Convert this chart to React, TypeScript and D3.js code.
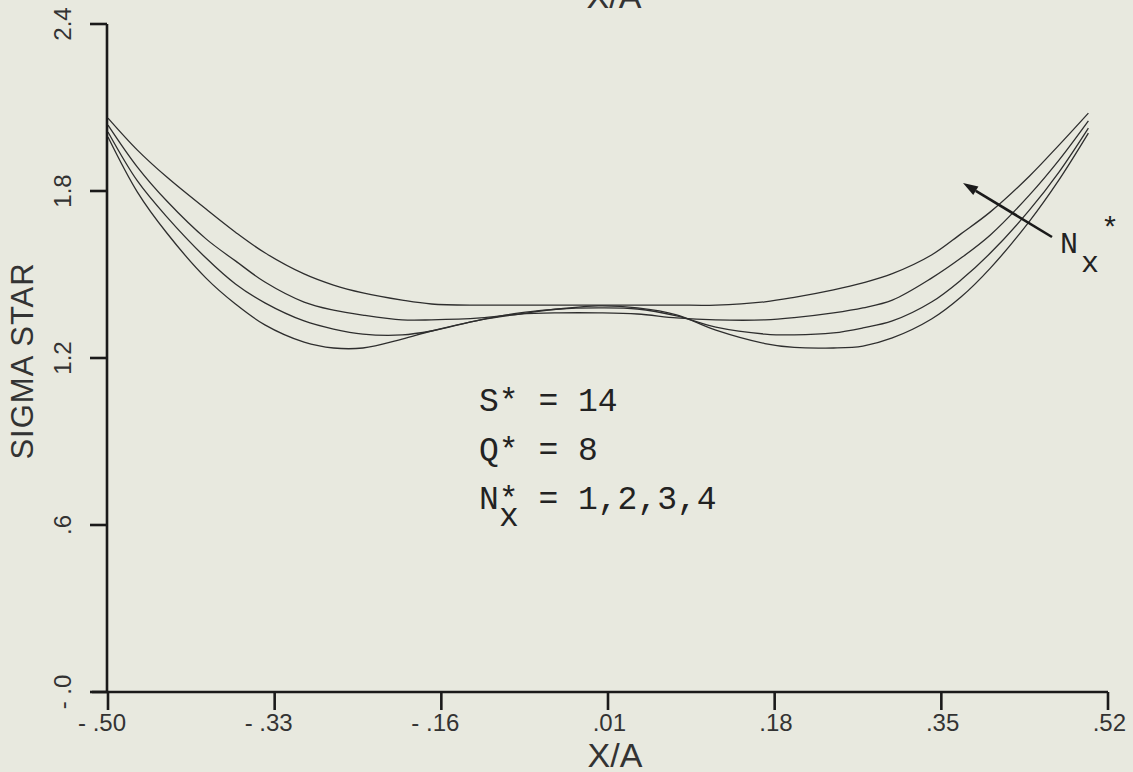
import React from "react";
import * as d3 from "d3";

// Sampled X/A positions shared by every curve
const xValues = [
  -0.5, -0.47, -0.44, -0.4, -0.37, -0.34, -0.3, -0.27, -0.24, -0.2, -0.17, -0.12, -0.08, -0.04,
  0.0, 0.04, 0.08, 0.12, 0.17, 0.2, 0.24, 0.27, 0.3, 0.34, 0.37, 0.4, 0.44, 0.47, 0.5,
];

// SIGMA STAR for N*x = 4, 3, 2, 1 (top to bottom near the edges)
const sigmaN4 = [
  2.062, 1.947, 1.85, 1.735, 1.652, 1.578, 1.502, 1.462, 1.434, 1.408, 1.394, 1.39, 1.39, 1.39,
  1.39, 1.39, 1.39, 1.39, 1.402, 1.418, 1.445, 1.47, 1.503, 1.57, 1.646, 1.725, 1.854, 1.965, 2.08,
];
const sigmaN3 = [
  2.037, 1.886, 1.764, 1.628, 1.549, 1.473, 1.401, 1.372, 1.354, 1.337, 1.337, 1.344, 1.358, 1.362,
  1.362, 1.358, 1.344, 1.337, 1.337, 1.345, 1.362, 1.38, 1.408, 1.487, 1.559, 1.642, 1.786, 1.911, 2.052,
];
const sigmaN2 = [
  2.012, 1.836, 1.707, 1.559, 1.466, 1.398, 1.333, 1.304, 1.286, 1.283, 1.297, 1.337, 1.358, 1.376,
  1.38, 1.376, 1.351, 1.311, 1.286, 1.283, 1.29, 1.308, 1.333, 1.401, 1.48, 1.577, 1.732, 1.868, 2.026,
];
const sigmaN1 = [
  1.994, 1.796, 1.649, 1.487, 1.394, 1.319, 1.257, 1.236, 1.236, 1.268, 1.297, 1.337, 1.362, 1.376,
  1.387, 1.38, 1.355, 1.3, 1.252, 1.238, 1.236, 1.243, 1.272, 1.34, 1.419, 1.523, 1.692, 1.84, 2.008,
];
const seriesList = [sigmaN4, sigmaN3, sigmaN2, sigmaN1];

// Axis ticks and their printed labels
const xTicks = [-0.5, -0.33, -0.16, 0.01, 0.18, 0.35, 0.52];
const xTickLabels = ["- .50", "- .33", "- .16", ".01", ".18", ".35", ".52"];
const yTicks = [0, 0.6, 1.2, 1.8, 2.4];
const yTickLabels = ["- .0", ".6", "1.2", "1.8", "2.4"];

// Parameter block
const paramLines = ["S* = 14", "Q* = 8", "N* = 1,2,3,4"];

const W = 1133;
const H = 772;
const INK = "#1a1a1a";
const PEN = "#2e2e2e";
const PLOT_FONT = "'Liberation Sans', Arial, sans-serif";
const TYPE_FONT = "'Liberation Mono', 'Courier New', monospace";

export default function App() {
  const x = d3.scaleLinear().domain([-0.5, 0.52]).range([108, 1108]);
  const y = d3.scaleLinear().domain([0, 2.4]).range([692, 24]);

  const line = d3
    .line<number>()
    .x((_, i) => x(xValues[i]))
    .y((d) => y(d))
    .curve(d3.curveCatmullRom.alpha(0.5));

  const x0 = x(-0.5);
  const y0 = y(0);
  const yTop = y(2.4);
  const xEnd = x(0.52);

  // arrow across the right-hand branches, pointing toward increasing N*x
  const arrowFrom: [number, number] = [1052, 237];
  const arrowTo: [number, number] = [963, 183];
  const ang = Math.atan2(arrowTo[1] - arrowFrom[1], arrowTo[0] - arrowFrom[0]);
  const headLen = 15;
  const headHalf = 5;
  const bx = arrowTo[0] - headLen * Math.cos(ang);
  const by = arrowTo[1] - headLen * Math.sin(ang);
  const head = [
    [arrowTo[0], arrowTo[1]],
    [bx + headHalf * Math.sin(ang), by - headHalf * Math.cos(ang)],
    [bx - headHalf * Math.sin(ang), by + headHalf * Math.cos(ang)],
  ]
    .map((p) => p.join(","))
    .join(" ");

  return (
    <svg
      width={W}
      height={H}
      style={{ position: "absolute", left: 0, top: 0, display: "block" }}
    >
      <rect x={0} y={0} width={W} height={H} fill="#e8e9df" />

      {/* top caption, partly cut by the page edge */}
      <text x={614} y={8} fontFamily={PLOT_FONT} fontSize={34} fill="#333" textAnchor="middle">
        X/A
      </text>

      {/* curves */}
      <g fill="none" stroke={PEN} strokeWidth={1.3} strokeLinejoin="round">
        {seriesList.map((s, i) => (
          <path key={i} d={line(s) || ""} />
        ))}
      </g>

      {/* y axis */}
      <line x1={x0 - 1} y1={yTop} x2={x0 - 1} y2={y0} stroke={INK} strokeWidth={2.6} />
      {yTicks.map((t) => (
        <line key={t} x1={90} y1={y(t)} x2={x0 - 1} y2={y(t)} stroke={INK} strokeWidth={2.6} />
      ))}
      {yTicks.map((t, i) => (
        <text
          key={t}
          transform={`translate(71,${y(t)}) rotate(-90)`}
          textAnchor="middle"
          fontFamily={PLOT_FONT}
          fontSize={24}
          fill="#333"
          style={{ whiteSpace: "pre" }}
        >
          {yTickLabels[i]}
        </text>
      ))}
      <text
        transform={`translate(33,${y(1.2) + 3}) rotate(-90)`}
        textAnchor="middle"
        fontFamily={PLOT_FONT}
        fontSize={31}
        letterSpacing={1}
        fill="#333"
        style={{ whiteSpace: "pre" }}
      >
        SIGMA STAR
      </text>

      {/* x axis */}
      <line x1={92} y1={y0} x2={xEnd} y2={y0} stroke={INK} strokeWidth={2.6} />
      {xTicks.map((t) => (
        <line key={t} x1={x(t)} y1={y0} x2={x(t)} y2={y0 + 18} stroke={INK} strokeWidth={2.6} />
      ))}
      {xTicks.map((t, i) => (
        <text
          key={t}
          x={x(t) + 18}
          y={731}
          textAnchor="end"
          fontFamily={PLOT_FONT}
          fontSize={24}
          fill="#333"
          style={{ whiteSpace: "pre" }}
        >
          {xTickLabels[i]}
        </text>
      ))}
      <text x={615} y={767} textAnchor="middle" fontFamily={PLOT_FONT} fontSize={34} fill="#333">
        X/A
      </text>

      {/* parameter block */}
      {paramLines.map((s, i) => (
        <text
          key={s}
          x={479}
          y={411 + i * 49}
          fontFamily={TYPE_FONT}
          fontSize={33}
          fill="#222"
          style={{ whiteSpace: "pre" }}
        >
          {s}
        </text>
      ))}
      <text x={499} y={526} fontFamily={TYPE_FONT} fontSize={33} fill="#222">
        x
      </text>

      {/* N*x arrow */}
      <line
        x1={arrowFrom[0]}
        y1={arrowFrom[1]}
        x2={bx}
        y2={by}
        stroke={INK}
        strokeWidth={2.6}
      />
      <polygon points={head} fill={INK} />
      <text x={1060} y={253} fontFamily={TYPE_FONT} fontSize={30} fill="#222">
        N
      </text>
      <text x={1081} y={272} fontFamily={TYPE_FONT} fontSize={30} fill="#222">
        x
      </text>
      <text x={1101} y={238} fontFamily={TYPE_FONT} fontSize={30} fill="#222">
        *
      </text>
    </svg>
  );
}
